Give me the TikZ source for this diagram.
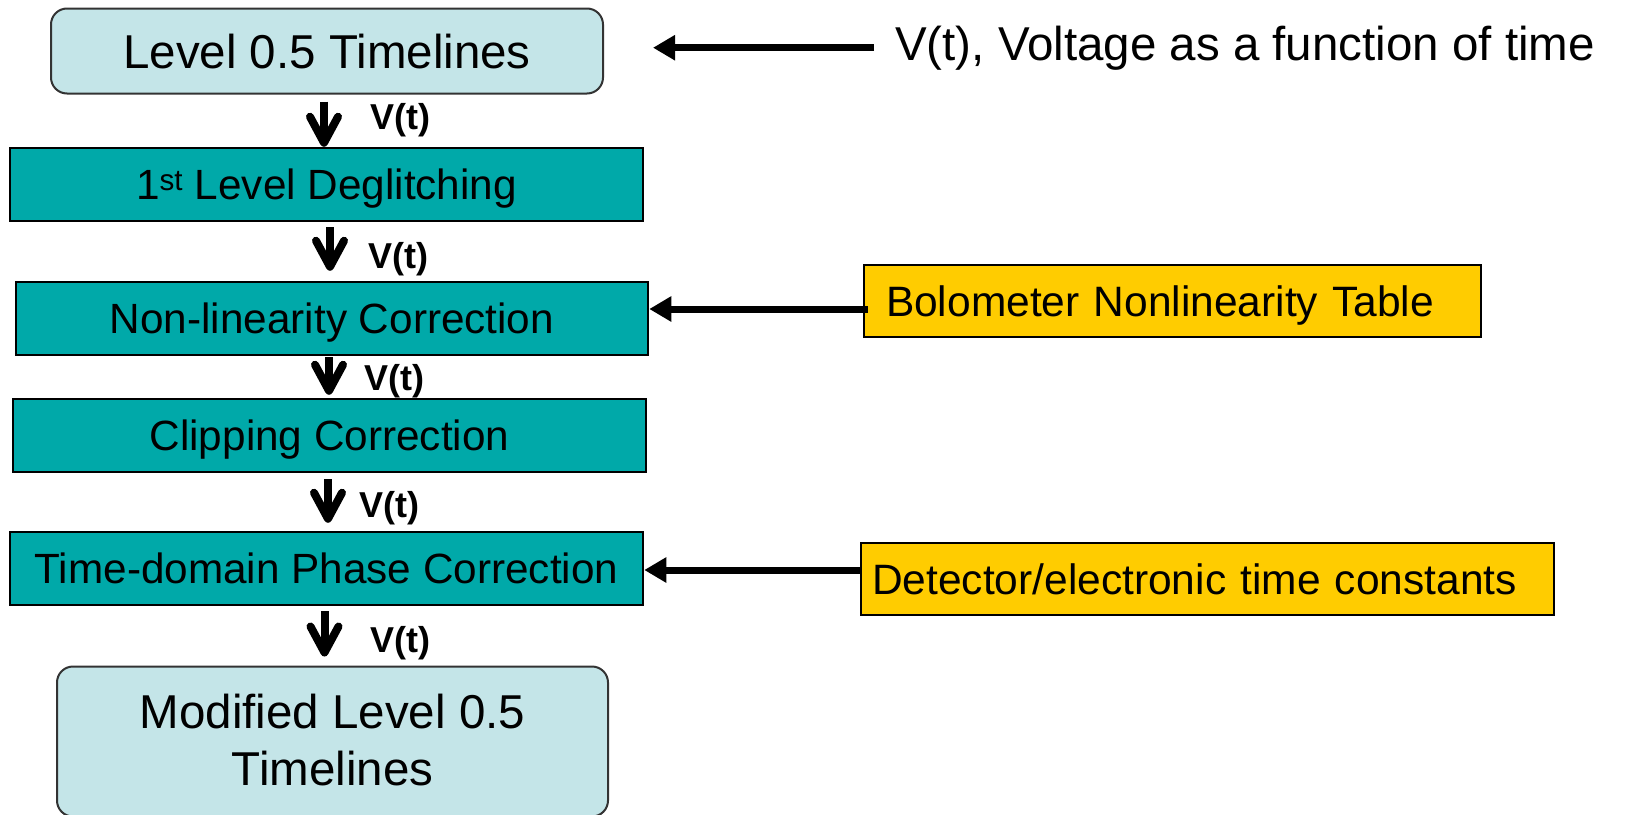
\documentclass[tikz,border=0pt]{standalone}
\usepackage{fontspec}
\setmainfont{Liberation Sans}
\usetikzlibrary{arrows.meta}
\definecolor{lblue}{HTML}{C4E5E8}
\definecolor{tealc}{HTML}{00A9A9}
\definecolor{goldc}{HTML}{FFCC00}
\begin{document}
\begin{tikzpicture}[x=1pt,y=-1pt,
  roundbox/.style={draw=black!80, line width=2pt, fill=lblue, rounded corners=16pt, inner sep=0pt, align=center, font=\fontsize{47.5}{57}\selectfont},
  tealbox/.style={draw=black, line width=2.5pt, fill=tealc, inner sep=0pt, minimum width=633pt, minimum height=73pt, text height=30.3pt, text depth=0pt, font=\fontsize{42.3}{50}\selectfont},
  goldbox/.style={draw=black, line width=2.5pt, fill=goldc, minimum height=72pt, inner ysep=0pt, align=left, text height=30.4pt, text depth=0pt, font=\fontsize{42.5}{50}\selectfont},
  varrow/.style={line width=8pt, -{Straight Barb[length=26pt, width=28pt, round]}},
  harrow/.style={line width=7pt, -{Triangle[length=22pt, width=24pt]}},
  vlabel/.style={font=\bfseries\fontsize{36}{40}\selectfont, anchor=base west, inner sep=0pt}]
\useasboundingbox (0,0) rectangle (1627,814);

% main column
\node[roundbox, minimum width=552pt, minimum height=85pt, text height=34pt, text depth=0pt] (l05) at (327,51) {Level 0.5 Timelines};
\node[tealbox] (deg) at (326.5,184.5) {1\textsuperscript{st} Level Deglitching};
\node[tealbox, minimum width=632pt] (nonlin) at (332,318.5) {Non-linearity Correction};
\node[tealbox] (clip) at (329.5,435.5) {Clipping Correction};
\node[tealbox] (phase) at (326.5,568.5) {Time-domain Phase Correction};
\node[roundbox, minimum width=551pt, minimum height=150pt, text depth=4pt] (mod) at (332.5,741.5) {Modified Level 0.5\\Timelines};

% inputs
\node[anchor=base west, inner sep=0pt, font=\fontsize{47.5}{56}\selectfont] (volt) at (895,60) {V(t), Voltage as a function of time};
\node[goldbox, inner xsep=22pt, text width=573pt] (bolo) at (1172.5,301) {Bolometer Nonlinearity Table};
\node[goldbox, inner xsep=11pt, text width=671pt] (detc) at (1207.5,579) {Detector/electronic time constants};

% vertical arrows
\draw[varrow, shorten <=7pt] ([xshift=-3pt]l05.south) -- ([xshift=-3pt]l05.south |- deg.north);
\draw[varrow, shorten <=5pt, shorten >=10pt] ([xshift=3.5pt]deg.south) -- ([xshift=3.5pt]deg.south |- nonlin.north);
\draw[varrow, shorten <=1pt, shorten >=3pt] ([xshift=-3pt]nonlin.south) -- ([xshift=-3pt]nonlin.south |- clip.north);
\draw[varrow, shorten <=6pt, shorten >=8pt] ([xshift=-1.5pt]clip.south) -- ([xshift=-1.5pt]clip.south |- phase.north);
\draw[varrow, shorten <=5pt, shorten >=9pt] ([xshift=-2pt]phase.south) -- ([xshift=-2pt]phase.south |- mod.north);

% labels
\node[vlabel] (v1) at (370,129) {V(t)};
\node[vlabel] (v2) at (368,268) {V(t)};
\node[vlabel] (v3) at (364,390) {V(t)};
\node[vlabel] (v4) at (359,517) {V(t)};
\node[vlabel] (v5) at (370,652) {V(t)};

% horizontal arrows
\draw[harrow, shorten <=21pt, shorten >=49pt] (volt.west) -- (volt.west -| l05.east);
\draw[harrow, shorten <=-5pt] ([yshift=-8pt]bolo.west) -- ([yshift=-8pt]bolo.west -| nonlin.east);
\draw[harrow, shorten <=-2pt] ([yshift=9pt]detc.west) -- ([yshift=9pt]detc.west -| phase.east);
\end{tikzpicture}
\end{document}
